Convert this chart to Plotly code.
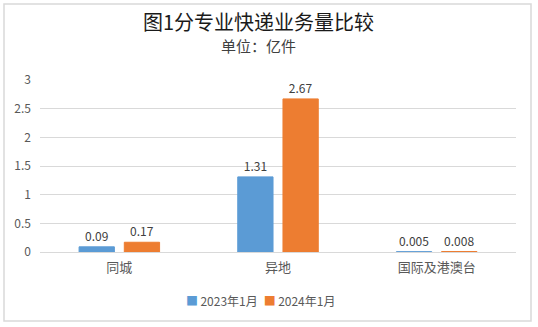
import plotly.graph_objects as go

categories = ["同城", "异地", "国际及港澳台"]
values_2023 = [0.09, 1.31, 0.005]
values_2024 = [0.17, 2.67, 0.008]
labels_2023 = ["0.09", "1.31", "0.005"]
labels_2024 = ["0.17", "2.67", "0.008"]
series_names = ["2023年1月", "2024年1月"]
series_colors = ["#5B9BD5", "#ED7D31"]
y_ticks = [0, 0.5, 1, 1.5, 2, 2.5, 3]
y_tick_labels = ["0", "0.5", "1", "1.5", "2", "2.5", "3"]

FONT = "Noto Sans CJK SC"
TEXT_GRAY = "#595959"
W, H = 538, 327
L, R, T, B = 40, 22, 80, 75
PW, PH = W - L - R, H - T - B


def px_to_paper(px, py):
    return (px - L) / PW, (H - B - py) / PH


fig = go.Figure()
for name, vals, labs, color in zip(series_names, [values_2023, values_2024],
                                   [labels_2023, labels_2024], series_colors):
    fig.add_trace(go.Bar(
        x=categories, y=vals, name=name, marker_color=color,
        marker_line=dict(color=color, width=1),
        text=labs, textposition="outside", cliponaxis=False,
        textfont=dict(family=FONT, size=12, color="#404040"),
    ))

# chart frame
x0, y0 = px_to_paper(4, 4)
x1, y1 = px_to_paper(531, 321)
fig.add_shape(type="rect", xref="paper", yref="paper", x0=x0, y0=y1, x1=x1, y1=y0,
              line=dict(color="#d9d9d9", width=1.5), layer="below")

# titles
cx, ty = px_to_paper(258, 21)
_, sy = px_to_paper(0, 45)
fig.add_annotation(text="图1分专业快递业务量比较", xref="paper", yref="paper",
                   x=cx, y=ty, showarrow=False, yanchor="middle", borderpad=0,
                   font=dict(family=FONT, size=20, color="#1a1a1a"))
fig.add_annotation(text="单位：亿件", xref="paper", yref="paper",
                   x=cx, y=sy, showarrow=False, yanchor="middle", borderpad=0,
                   font=dict(family=FONT, size=15, color="#404040"))

# legend row
lx, ly = px_to_paper(260, 300)
legend_text = "\u2002".join(
    f"<span style='color:{c}'>■</span>\u2009{n}" for n, c in zip(series_names, series_colors)
)
fig.add_annotation(text=legend_text, xref="paper", yref="paper",
                   x=lx, y=ly, showarrow=False, xanchor="center", yanchor="middle",
                   font=dict(family=FONT, size=12, color=TEXT_GRAY))

fig.update_layout(
    width=W, height=H,
    margin=dict(l=L, r=R, t=T, b=B),
    paper_bgcolor="white", plot_bgcolor="white",
    barmode="group", bargap=0.43, bargroupgap=0.22,
    showlegend=False,
    xaxis=dict(tickfont=dict(family=FONT, size=13, color=TEXT_GRAY),
               showline=False, ticks="", ticklabelstandoff=6),
    yaxis=dict(range=[0, 3], tickvals=y_ticks, ticktext=y_tick_labels,
               tickfont=dict(family=FONT, size=12, color=TEXT_GRAY),
               gridcolor="#d9d9d9", gridwidth=1, zeroline=True,
               zerolinecolor="#d9d9d9", zerolinewidth=1, showline=False,
               ticklabelstandoff=8),
)

fig.write_html("out.html")
